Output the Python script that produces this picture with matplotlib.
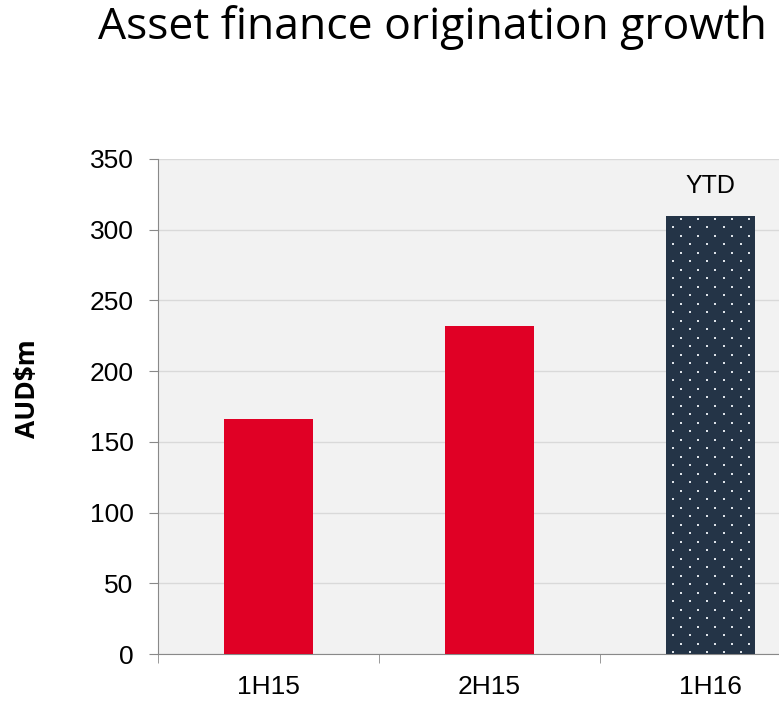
import numpy as np
import matplotlib.pyplot as plt

categories = ["1H15", "2H15", "1H16"]
values = [166, 232, 310]
yticks = [0, 50, 100, 150, 200, 250, 300, 350]

fig = plt.figure(figsize=(7.79, 7.02), dpi=100)
ax = fig.add_axes([158/779, 1-654/702, (779-158)/779, (654-159)/702])
ax.set_facecolor("#F2F2F2")

x = np.arange(len(categories))
bw = 0.4
ax.bar(x[:2], values[:2], width=bw, color="#E00025", zorder=3)
ax.bar(x[2], values[2], width=bw, color="#243447", zorder=3)

# dotted texture on the YTD bar (staggered grid, ~17 px period)
px_x = 221.0          # pixels per category unit
px_y = 495.0 / 350    # pixels per AUD$m
dots_x, dots_y = [], []
left = x[2] - bw / 2
row = 0
yy = values[2] - 3 / px_y
while yy > 0:
    off = 15 if row % 2 == 0 else 7
    xx = off
    while xx < bw * px_x - 2:
        dots_x.append(left + xx / px_x)
        dots_y.append(yy)
        xx += 17
    yy -= 8.5 / px_y
    row += 1
ax.scatter(dots_x, dots_y, marker="s", s=2.6, color="#DDE2E8", lw=0, zorder=4)

ax.text(x[2], values[2] + 21, "YTD", ha="center", va="center", fontsize=18,
        family="Liberation Sans")

ax.set_ylim(0, 350)
ax.set_xlim(-0.5, 2.5 - 42/221)
ax.set_yticks(yticks)
ax.set_yticklabels([str(v) for v in yticks], fontsize=19, family="Liberation Sans")
ax.yaxis.grid(True, color="#D9D9D9", lw=1, zorder=0)

ax.set_xticks(x)
ax.set_xticklabels(categories, fontsize=19, family="Liberation Sans")
ax.tick_params(axis="x", length=0, pad=15)
ax.set_xticks([-0.5, 0.5, 1.5], minor=True)
ax.tick_params(axis="x", which="minor", length=6.5, color="#898989", direction="out")
ax.tick_params(axis="y", length=6.5, color="#898989", pad=11)

for s in ["top", "right"]:
    ax.spines[s].set_visible(False)
for s in ["left", "bottom"]:
    ax.spines[s].set_color("#898989")

fig.text(28/779, 1-389/702, "AUD$m", rotation=90, ha="center", va="center",
         fontsize=19, fontweight="bold", family="Open Sans")

fig.text(432/779, 1-28/702, "Asset finance origination growth", ha="center", va="center",
         fontsize=32, family="Open Sans")

fig.savefig("out.png", dpi=100)
